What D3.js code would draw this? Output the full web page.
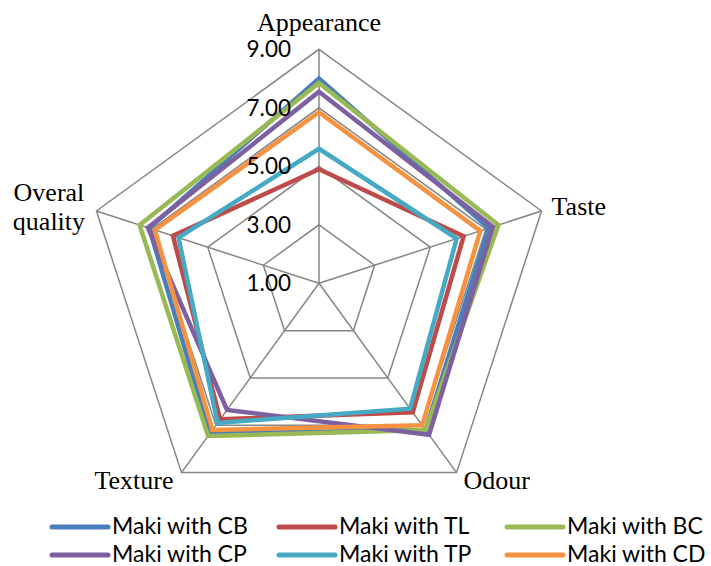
<!DOCTYPE html>
<html>
<head>
<meta charset="utf-8">
<script src="https://cdn.jsdelivr.net/npm/d3@7"></script>
<style>
  html, body { margin: 0; padding: 0; background: #fff; }
  svg { display: block; }
</style>
</head>
<body>
<svg id="chart" width="711" height="566"></svg>
<script>
// ---- data ----
const axes = ["Appearance", "Taste", "Odour", "Texture", "Overal quality"];
const seriesNames = ["Maki with CB", "Maki with TL", "Maki with BC", "Maki with CP", "Maki with TP", "Maki with CD"];
const valuesCB = [8.0, 7.1, 7.2, 7.35, 7.1];
const valuesTL = [4.9, 6.2, 6.45, 6.75, 6.25];
const valuesBC = [7.85, 7.45, 7.2, 7.45, 7.45];
const valuesCP = [7.55, 7.25, 7.4, 6.35, 7.15];
const valuesTP = [5.6, 5.95, 6.3, 6.9, 6.05];
const valuesCD = [6.85, 6.8, 7.0, 7.2, 6.9];
const tickValues = [1, 3, 5, 7, 9];
const tickLabels = ["1.00", "3.00", "5.00", "7.00", "9.00"];
const colors = ["#4A7EBB", "#BE4B48", "#98B954", "#7D60A0", "#46AAC5", "#F69240"];

const seriesValues = [valuesCB, valuesTL, valuesBC, valuesCP, valuesTP, valuesCD];

// ---- layout ----
const cx = 319, cy = 283.3, R = 234;
const svg = d3.select("#chart");
const g = svg.append("g").attr("transform", `translate(${cx},${cy})`);

const r = d3.scaleLinear().domain([1, 9]).range([0, R]);
const angle = d3.scalePoint().domain(axes).range([0, 2 * Math.PI * (axes.length - 1) / axes.length]);

const pt = (ax, v) => {
  const a = angle(ax);
  return [Math.sin(a) * r(v), -Math.cos(a) * r(v)];
};

const lineRadial = d3.lineRadial()
  .angle((d, i) => angle(axes[i]))
  .radius(d => r(d))
  .curve(d3.curveLinearClosed);

// grid rings
const gridColor = "#868686";
g.selectAll(".ring")
  .data(tickValues.filter(v => v > 1))
  .join("path")
  .attr("d", v => lineRadial(axes.map(() => v)))
  .attr("fill", "none")
  .attr("stroke", gridColor)
  .attr("stroke-width", 1.5);

// spokes
g.selectAll(".spoke")
  .data(axes)
  .join("line")
  .attr("x1", 0).attr("y1", 0)
  .attr("x2", d => pt(d, 9)[0])
  .attr("y2", d => pt(d, 9)[1])
  .attr("stroke", gridColor)
  .attr("stroke-width", 1.5);

// series
g.selectAll(".series")
  .data(seriesValues)
  .join("path")
  .attr("d", d => lineRadial(d))
  .attr("fill", "none")
  .attr("stroke", (d, i) => colors[i])
  .attr("stroke-width", 4.5)
  .attr("stroke-linejoin", "miter");

// tick labels
g.selectAll(".tick")
  .data(tickValues)
  .join("text")
  .attr("x", -28)
  .attr("y", v => -r(v))
  .attr("dy", "0.36em")
  .attr("text-anchor", "end")
  .attr("font-family", "Lato, 'Open Sans', sans-serif")
  .attr("font-size", 22.5)
  .attr("fill", "#000")
  .text((v, i) => tickLabels[i]);

// axis labels
const serif = "'Liberation Serif', 'Times New Roman', serif";
const labelOffsets = {
  "Appearance": { dx: 0, dy: -18, anchor: "middle" },
  "Taste": { dx: 10, dy: 4, anchor: "start" },
  "Odour": { dx: 7, dy: 16, anchor: "start" },
  "Texture": { dx: -8, dy: 16, anchor: "end" }
};
axes.forEach(ax => {
  const [x, y] = pt(ax, 9);
  if (ax === "Overal quality") {
    const t = g.append("text")
      .attr("font-family", serif)
      .attr("font-size", 26)
      .attr("text-anchor", "middle")
      .attr("fill", "#000");
    const words = ax.split(" ");
    words.forEach((w, i) => {
      t.append("tspan")
        .attr("x", x - 47.5)
        .attr("y", y - 10.5 + i * 29.5)
        .text(w);
    });
  } else {
    const o = labelOffsets[ax];
    g.append("text")
      .attr("x", x + o.dx)
      .attr("y", y + o.dy)
      .attr("text-anchor", o.anchor)
      .attr("font-family", serif)
      .attr("font-size", 26)
      .attr("fill", "#000")
      .text(ax);
  }
});

// legend
const legend = svg.append("g");
const colX = [52, 279, 507];
const rowY = [526, 554];
seriesNames.forEach((name, i) => {
  const x = colX[i % 3], y = rowY[Math.floor(i / 3)];
  legend.append("line")
    .attr("x1", x).attr("x2", x + 56)
    .attr("y1", y + 1).attr("y2", y + 1)
    .attr("stroke", colors[i])
    .attr("stroke-width", 5)
    .attr("stroke-linecap", "round");
  legend.append("text")
    .attr("x", x + 60)
    .attr("y", y)
    .attr("dy", "0.36em")
    .attr("font-family", "Lato, 'Open Sans', sans-serif")
    .attr("font-size", 23)
    .attr("fill", "#000")
    .text(name);
});
</script>
</body>
</html>
